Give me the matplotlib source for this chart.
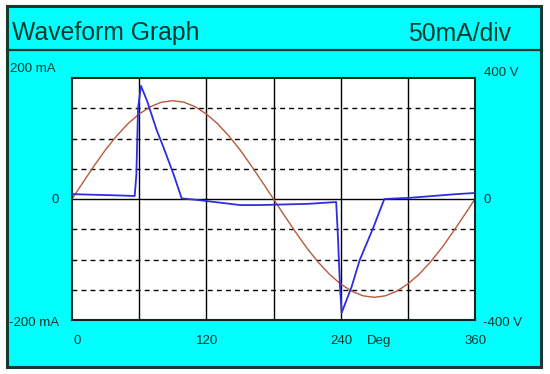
import matplotlib
matplotlib.use("Agg")
import matplotlib.pyplot as plt
from matplotlib.patches import Rectangle

plt.rcParams['font.family'] = ['Liberation Sans', 'DejaVu Sans']

# ---- data ----
volt_deg = [0, 10, 20, 30, 40, 50, 60, 70, 80, 90, 100, 110, 120, 130, 140, 150, 160, 170, 180,
            190, 200, 210, 220, 230, 240, 250, 260, 270, 280, 290, 300, 310, 320, 330, 340, 350, 360]
volt_v = [0, 56, 111, 163, 209, 249, 281, 305, 320, 325, 320, 305, 281, 249, 209, 163, 111, 56, 0,
          -56, -111, -163, -209, -249, -281, -305, -320, -325, -320, -305, -281, -249, -209, -163, -111, -56, 0]

cur_deg = [0, 1, 20, 40, 56, 57.5, 59, 61.6, 67.3, 75.6, 81.6, 90.5, 98, 114, 150, 168, 211, 236,
           237.5, 239.4, 240.9, 249.8, 257, 269, 279, 302, 343, 360]
cur_ma = [10, 8, 7, 6, 5, 40, 150, 187, 161, 114, 86, 42, 1, -2, -10, -10, -8, -5,
          -60, -145, -188, -145, -101, -48, 0, 2, 8, 10]

x_ticks = [0, 120, 240, 360]
x_tick_labels = ["0", "120", "240", "360"]
title = "Waveform Graph"
scale_label = "50mA/div"

W, H = 550, 374
fig = plt.figure(figsize=(W / 100, H / 100), dpi=100)
fig.patch.set_facecolor('white')

text_color = '#06382c'
edge_color = '#183a2e'

# background axes in pixel coordinates (y downwards)
bg = fig.add_axes([0, 0, 1, 1], zorder=-5)
bg.set_xlim(0, W)
bg.set_ylim(H, 0)
bg.axis('off')
bg.add_patch(Rectangle((7, 6), 534, 361, facecolor='#00ffff', edgecolor=edge_color, linewidth=2.2))
bg.plot([7, 541], [50, 50], color=edge_color, linewidth=1.6)

bg.text(12, 40, title, fontsize=17.8, color=text_color, ha='left', va='baseline')
bg.text(511, 41, scale_label, fontsize=17.8, color=text_color, ha='right', va='baseline')

fs = 9.5
bg.text(10, 69, "200 mA", fontsize=fs, color=text_color, ha='left', va='center')
bg.text(59, 200, "0", fontsize=fs, color=text_color, ha='right', va='center')
bg.text(9, 323, "-200 mA", fontsize=fs, color=text_color, ha='left', va='center')
bg.text(484, 73, "400 V", fontsize=fs, color=text_color, ha='left', va='center')
bg.text(484, 200, "0", fontsize=fs, color=text_color, ha='left', va='center')
bg.text(483, 323, "-400 V", fontsize=fs, color=text_color, ha='left', va='center')

# plot axes
L, T, R, B = 72, 78, 475, 320
ax = fig.add_axes([L / W, 1 - B / H, (R - L) / W, (B - T) / H], zorder=2)
ax.set_facecolor('white')
ax.set_xlim(0, 360)
ax.set_ylim(-200, 200)
ax.set_xticks([])
ax.set_yticks([])
for s in ax.spines.values():
    s.set_color('#0e2a20')
    s.set_linewidth(1.5)

for d in [60, 120, 180, 240, 300]:
    ax.axvline(d, color='black', linewidth=1.0, zorder=1)
ax.axhline(0, color='black', linewidth=1.0, zorder=1)
for m in [-150, -100, -50, 50, 100, 150]:
    ax.axhline(m, color='black', linewidth=1.0, linestyle=(0, (3.5, 3)), zorder=1)

# voltage scale (right), drawn beneath the main axes
axv = ax.twinx()
axv.set_ylim(-400, 400)
axv.set_yticks([])
axv.set_zorder(1)
for s in axv.spines.values():
    s.set_visible(False)

ax.plot(volt_deg, volt_v, color='#b85a3c', linewidth=1.0, zorder=2, transform=axv.transData)
ax.plot(cur_deg, cur_ma, color='#2e2ee0', linewidth=1.3, zorder=3)

# x labels
for d, lab in zip(x_ticks, x_tick_labels):
    ha = 'left' if d == 0 else 'center'
    ax.annotate(lab, xy=(d, -200), xytext=(1, -21), textcoords='offset pixels',
                fontsize=fs, color=text_color, ha=ha, va='center', annotation_clip=False)
ax.annotate("Deg", xy=(274, -200), xytext=(0, -21), textcoords='offset pixels',
            fontsize=fs, color=text_color, ha='center', va='center', annotation_clip=False)

fig.savefig("out.png", dpi=100, facecolor=fig.get_facecolor())
